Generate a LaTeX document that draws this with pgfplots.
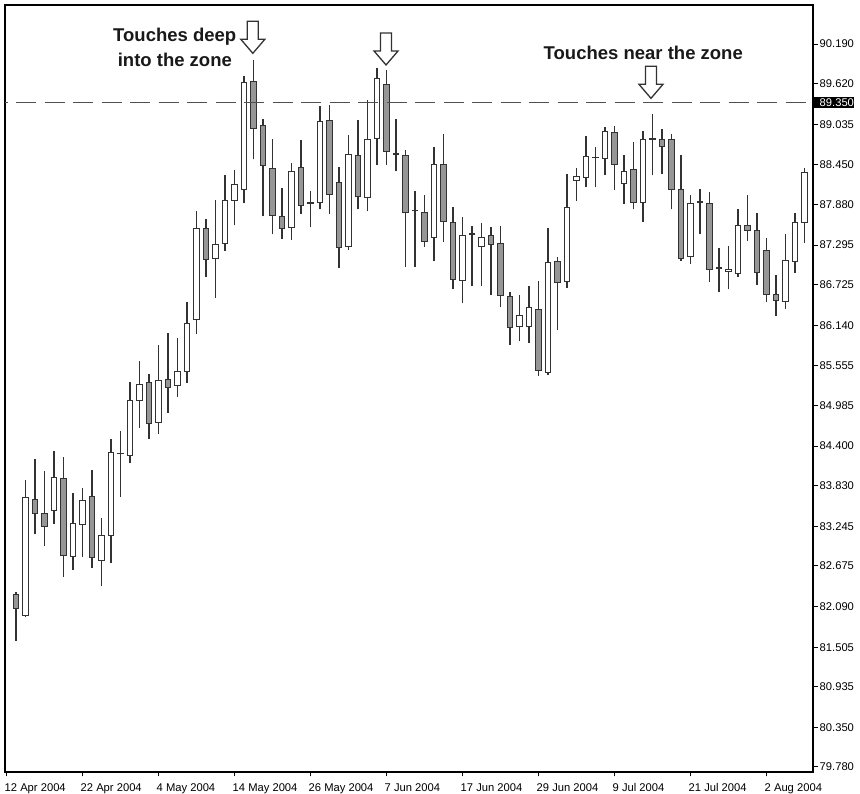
\documentclass[border=0pt]{standalone}
\usepackage{fontspec}
\setmainfont{Liberation Sans}
\usepackage{pgfplots}
\usepackage{pgfplotstable}
\pgfplotsset{compat=1.18}
\definecolor{edge}{RGB}{50,50,50}
\definecolor{bodyfill}{RGB}{150,150,150}
\definecolor{zone}{RGB}{80,80,80}
\definecolor{annot}{RGB}{25,25,25}

\pgfplotstableread{
i O H L C
0 82.26 82.30 81.60 82.06
1 81.96 83.91 81.94 83.66
2 83.63 84.22 83.13 83.43
3 83.43 84.04 82.96 83.25
4 83.47 84.33 83.28 83.95
5 83.93 84.24 82.52 82.82
6 82.81 83.73 82.62 83.29
7 83.27 83.79 82.80 83.62
8 83.67 84.06 82.65 82.80
9 82.76 83.37 82.38 83.11
10 83.11 84.50 82.72 84.31
11 84.29 84.62 83.67 84.30
12 84.27 85.33 84.15 85.05
13 85.06 85.63 84.66 85.29
14 85.32 85.44 84.50 84.72
15 84.74 85.86 84.58 85.34
16 85.36 86.03 84.88 85.24
17 85.28 85.96 85.11 85.48
18 85.47 86.47 85.31 86.17
19 86.23 87.79 86.02 87.53
20 87.53 87.67 86.84 87.09
21 87.10 87.95 86.54 87.30
22 87.32 88.31 87.21 87.94
23 87.93 88.37 87.58 88.17
24 88.10 89.73 87.90 89.63
25 89.65 89.96 88.53 88.98
26 89.01 89.11 87.71 88.44
27 88.40 88.82 87.45 87.72
28 87.70 88.12 87.38 87.53
29 87.55 88.48 87.37 88.35
30 88.41 88.81 87.74 87.87
31 87.91 88.08 87.55 87.90
32 87.91 89.30 87.81 89.07
33 89.09 89.31 87.74 88.03
34 88.20 88.42 86.97 87.26
35 87.27 88.88 87.23 88.60
36 88.58 89.10 87.81 88.00
37 87.98 89.38 87.78 88.82
38 88.83 89.84 88.45 89.69
39 89.60 89.82 88.45 88.64
40 88.61 89.11 88.36 88.60
41 88.58 88.66 86.98 87.77
42 87.79 88.08 86.98 87.80
43 87.77 88.01 87.27 87.35
44 87.41 88.71 87.06 88.46
45 88.46 88.89 87.34 87.64
46 87.62 87.84 86.66 86.80
47 86.78 87.70 86.46 87.44
48 87.45 87.57 86.70 87.46
49 87.28 87.61 86.71 87.41
50 87.43 87.56 86.57 87.31
51 87.32 87.57 86.40 86.57
52 86.55 86.62 85.86 86.11
53 86.12 86.58 85.91 86.28
54 86.12 86.71 85.89 86.39
55 86.37 86.78 85.41 85.49
56 85.46 87.54 85.43 87.04
57 87.06 87.12 86.07 86.75
58 86.77 88.32 86.68 87.84
59 88.22 88.41 87.93 88.28
60 88.27 88.87 88.13 88.57
61 88.56 88.70 88.13 88.55
62 88.54 88.99 88.30 88.93
63 88.91 89.01 88.09 88.46
64 88.18 88.59 87.89 88.36
65 88.38 88.78 87.81 87.91
66 87.91 88.94 87.63 88.81
67 88.82 89.18 88.30 88.83
68 88.82 88.96 88.32 88.72
69 88.82 88.89 87.81 88.09
70 88.10 88.59 87.07 87.10
71 87.13 88.02 87.02 87.90
72 87.91 88.10 87.45 87.92
73 87.90 88.06 86.77 86.94
74 86.97 87.25 86.62 86.96
75 86.91 87.28 86.66 86.95
76 86.89 87.82 86.84 87.57
77 87.58 88.01 87.36 87.50
78 87.50 87.75 86.72 86.90
79 87.22 87.39 86.47 86.59
80 86.59 86.86 86.28 86.49
81 86.48 87.45 86.38 87.08
82 87.06 87.76 86.90 87.62
83 87.62 88.40 87.33 88.34
}\candles

\pgfplotsset{
  basegeom/.style={at={(0pt,0pt)}, anchor=south west,
    width=808pt, height=767pt, scale only axis,
    xmin=-1.158, xmax=83.895, ymin=79.708, ymax=90.752},
}
\newcommand{\hollowarrow}[1]{%
  \draw[line width=1.3pt, draw=edge, fill=white, line join=miter]
    (#1) -- ++(-12pt,14pt) -- ++(6.5pt,0pt) -- ++(0pt,18pt) -- ++(11pt,0pt)
    -- ++(0pt,-18pt) -- ++(6.5pt,0pt) -- cycle;}

\begin{document}
\begin{tikzpicture}
% main axis: frame, ticks, labels, wicks
\begin{axis}[basegeom,
  axis line style={line width=1.2pt, black},
  tick style={line width=1pt, black},
  tick align=outside, major tick length=4.5pt,
  xtick pos=left, ytick pos=right, yticklabel pos=right,
  xtick={-1,7,15,23,31,39,47,55,63,71,79},
  xticklabels={12 Apr 2004,22 Apr 2004,4 May 2004,14 May 2004,26 May 2004,7 Jun 2004,17 Jun 2004,29 Jun 2004,9 Jul 2004,21 Jul 2004,2 Aug 2004},
  ytick={79.78,80.35,80.935,81.505,82.09,82.675,83.245,83.83,84.4,84.985,85.555,86.14,86.725,87.295,87.88,88.45,89.035,89.62,90.19},
  yticklabels={79.780,80.350,80.935,81.505,82.090,82.675,83.245,83.830,84.400,84.985,85.555,86.140,86.725,87.295,87.880,88.450,89.035,89.620,90.190},
  tick label style={font=\fontsize{11.2}{13}\selectfont, black},
  xticklabel style={anchor=north west, inner sep=0pt, xshift=-2pt, yshift=-7pt},
  yticklabel style={anchor=west, inner sep=0pt, xshift=2pt},
  minor tick num=0,
]
\addplot[only marks, mark=*, mark size=0pt, mark options={draw=none, fill=none},
  error bars/.cd, y dir=plus, y explicit, error mark=none,
  error bar style={line width=1.1pt, color=edge}]
  table[x=i, y=L, y error plus expr=\thisrow{H}-\thisrow{L}] {\candles};
\end{axis}
% bodies (prices shown relative to 79 so that the bars start just below the frame)
\begin{axis}[at={(0pt,0pt)}, anchor=south west,
    width=808pt, height=767pt, scale only axis,
    xmin=-1.158, xmax=83.895, ymin=0.708, ymax=11.752,
    axis lines=none, ticks=none, ybar stacked, bar width=5.5pt]
\addplot[draw=none, fill=none] table[x=i, y expr={min(\thisrow{O},\thisrow{C})-79}] {\candles};
\addplot[fill=white, draw=edge, line width=1pt] table[x=i, y expr={max(\thisrow{C}-\thisrow{O},0)}] {\candles};
\addplot[fill=bodyfill, draw=edge, line width=1pt] table[x=i, y expr={max(\thisrow{O}-\thisrow{C},0)}] {\candles};
\end{axis}
% zone line and annotations
\begin{axis}[basegeom, axis lines=none, ticks=none, clip=false]
\addplot[zone, line width=1.5pt, dash pattern=on 20pt off 8.5pt, dash phase=17.4pt, mark=none]
  coordinates {(-1.158,89.35) (83.895,89.35)};
\node[anchor=base, text=annot, font=\bfseries\fontsize{18.5}{22}\selectfont] at (axis cs:16.71,90.223) {Touches deep};
\node[anchor=base, text=annot, font=\bfseries\fontsize{18.5}{22}\selectfont] at (axis cs:16.72,89.863) {into the zone};
\node[anchor=base, text=annot, font=\bfseries\fontsize{18.5}{22}\selectfont] at (axis cs:66.03,89.970) {Touches near the zone};
\hollowarrow{axis cs:24.93,90.056}
\hollowarrow{axis cs:38.95,89.888}
\hollowarrow{axis cs:66.84,89.408}
\node[fill=black, text=white, anchor=west, inner xsep=0pt, inner ysep=1.8pt, font=\fontsize{11.2}{13}\selectfont] at (axis cs:83.895,89.35) {\hspace{6.5pt}89.350\hspace{2pt}};
\end{axis}
\pgfresetboundingbox
\path[use as bounding box] (-5pt,-22pt) rectangle (855pt,772pt);
\end{tikzpicture}
\end{document}
